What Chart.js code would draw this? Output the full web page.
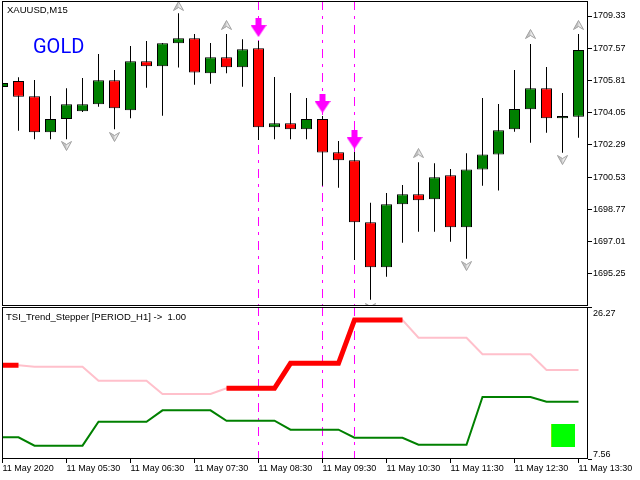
<!DOCTYPE html>
<html>
<head>
<meta charset="utf-8">
<script src="https://cdn.jsdelivr.net/npm/chart.js@4.4.1/dist/chart.umd.min.js"></script>
<style>
  html, body { margin: 0; padding: 0; background: #ffffff; }
  #wrap { position: relative; width: 640px; height: 480px; overflow: hidden; }
  #c1 { position: absolute; left: 0; top: 0; }
  #c2 { position: absolute; left: 0; top: 307px; }
</style>
</head>
<body>
<div id="wrap">
  <canvas id="c1" width="640" height="307"></canvas>
  <canvas id="c2" width="640" height="173"></canvas>
</div>
<script>
// ---------------- DATA ----------------
const symbolTitle = 'XAUUSD,M15';
const bannerText = 'GOLD';
const indicatorTitle = 'TSI_Trend_Stepper [PERIOD_H1] ->  1.00';

// candle index 0..36 (M15 bars, 04:30 .. 13:30)
const openP  = [1705.45,1705.78,1704.94,1702.98,1703.70,1704.12,1704.51,1705.82,1704.18,1706.86,
                1706.58,1707.84,1708.11,1706.20,1707.07,1706.53,1707.57,1703.25,1703.47,1703.14,
                1703.70,1701.88,1701.45,1698.06,1695.60,1699.04,1699.59,1699.32,1700.63,1697.79,
                1700.95,1701.77,1703.14,1704.23,1705.38,1703.74,1703.83];
const highP  = [1705.78,1705.98,1705.83,1704.96,1705.38,1705.94,1707.25,1706.38,1707.69,1707.96,
                1707.85,1709.48,1708.35,1707.86,1708.35,1708.06,1707.96,1706.00,1705.12,1704.85,
                1703.87,1702.50,1701.90,1699.13,1699.66,1700.10,1701.34,1701.28,1700.97,1701.83,
                1704.85,1704.52,1706.38,1707.80,1706.54,1705.12,1708.35];
const lowP   = [1705.34,1703.06,1702.59,1702.59,1702.59,1704.08,1704.37,1703.14,1703.74,1705.41,
                1703.88,1706.51,1705.58,1705.63,1706.20,1705.47,1702.56,1702.59,1702.59,1702.59,
                1700.06,1699.95,1696.00,1693.83,1695.09,1696.94,1697.54,1697.54,1697.00,1696.07,
                1700.06,1699.79,1703.01,1702.41,1702.95,1701.86,1702.68];
const closeP = [1705.67,1704.92,1702.98,1703.70,1704.51,1704.51,1705.82,1704.29,1706.86,1706.58,
                1707.84,1708.11,1706.25,1707.07,1706.53,1707.51,1703.25,1703.47,1703.14,1703.70,
                1701.87,1701.45,1698.06,1695.60,1699.04,1699.59,1699.26,1700.52,1697.79,1700.95,
                1701.77,1703.09,1704.25,1705.38,1703.74,1703.87,1707.47];

// grey fractal arrows
const upArrowIdx   = [11, 14, 26, 33, 36];
const upArrowVal   = [1709.88, 1708.84, 1701.84, 1708.35, 1708.84];
const downArrowIdx = [4, 7, 23, 29, 35];
const downArrowVal = [1702.23, 1702.72, 1693.38, 1695.67, 1701.46];

// magenta sell signals (arrows + vertical dash-dot lines)
const signalIdx = [16, 20, 22];
const signalVal = [1708.70, 1704.55, 1702.58];

// price axis ticks
const priceTicks = [1709.33, 1707.57, 1705.81, 1704.05, 1702.29, 1700.53, 1698.77, 1697.01, 1695.25];

// indicator window
const upperLine = [19.09,19.09,18.92,18.92,18.92,18.92,17.20,17.20,17.20,17.20,
                   15.56,15.56,15.56,15.56,16.26,16.26,16.26,16.26,19.34,19.34,
                   19.34,19.34,24.67,24.67,24.67,24.67,22.49,22.49,22.49,22.49,
                   20.45,20.45,20.45,20.45,18.52,18.52,18.52];
const upperActive = [19.09,19.09,null,null,null,null,null,null,null,null,
                     null,null,null,null,16.26,16.26,16.26,16.26,19.34,19.34,
                     19.34,19.34,24.67,24.67,24.67,24.67,null,null,null,null,
                     null,null,null,null,null,null,null];
const lowerLine = [10.23,10.23,9.20,9.20,9.20,9.20,12.15,12.15,12.15,12.15,
                   13.55,13.55,13.55,13.55,12.27,12.27,12.27,12.27,11.17,11.17,
                   11.17,11.17,10.18,10.18,10.18,10.18,9.32,9.32,9.32,9.32,
                   15.19,15.19,15.19,15.19,14.61,14.61,14.61];
const statusIdx = [35];
const statusVal = [10.48];
const subMax = 26.27;
const subMin = 7.56;

// time axis
const timeTickIdx = [0, 4, 8, 12, 16, 20, 24, 28, 32, 36];
const timeLabels = ['11 May 2020','11 May 05:30','11 May 06:30','11 May 07:30','11 May 08:30',
                    '11 May 09:30','11 May 10:30','11 May 11:30','11 May 12:30','11 May 13:30'];

// ---------------- STYLE / LAYOUT ----------------
const FONT = '"Liberation Sans", Arial, sans-serif';
const FS = 9;
const xMin = -0.03125, xMax = 36.59375;
const yMin = 1693.486, yMax = 1710.150;
const GREEN = '#008000', RED = '#FF0000', MAGENTA = '#FF00FF';

function makeGreyArrow(up) {
  const c = document.createElement('canvas');
  c.width = 11; c.height = 10;
  const g = c.getContext('2d');
  if (!up) { g.translate(0, 10); g.scale(1, -1); }
  g.beginPath();
  g.moveTo(5.5, 0.5); g.lineTo(10.5, 9.5); g.lineTo(5.5, 6.5); g.lineTo(0.5, 9.5); g.closePath();
  g.fillStyle = '#ececec'; g.fill();
  g.beginPath();
  g.moveTo(5.5, 0.5); g.lineTo(5.5, 6.5); g.lineTo(0.5, 9.5); g.closePath();
  g.fillStyle = '#c4c4c4'; g.fill();
  g.beginPath();
  g.moveTo(5.5, 0.5); g.lineTo(10.5, 9.5); g.lineTo(5.5, 6.5); g.lineTo(0.5, 9.5); g.closePath();
  g.strokeStyle = '#a0a0a0'; g.lineWidth = 1; g.stroke();
  return c;
}
function makeMagentaArrow() {
  const c = document.createElement('canvas');
  c.width = 16; c.height = 19;
  const g = c.getContext('2d');
  g.fillStyle = MAGENTA;
  g.fillRect(5, 0, 6, 9);
  g.beginPath(); g.moveTo(0, 7); g.lineTo(16, 7); g.lineTo(8, 19); g.closePath(); g.fill();
  return c;
}
function makeStatusBox() {
  const c = document.createElement('canvas');
  c.width = 24; c.height = 23;
  const g = c.getContext('2d');
  g.fillStyle = '#00FF00'; g.fillRect(0, 0, 24, 23);
  g.fillStyle = '#E0E000'; g.fillRect(0, 0, 1, 23);
  return c;
}

const framePlugin = {
  id: 'frame',
  beforeDatasetsDraw(chart) {
    const ctx = chart.ctx, a = chart.chartArea, xs = chart.scales.x;
    ctx.save();
    ctx.strokeStyle = MAGENTA; ctx.lineWidth = 1; ctx.setLineDash([9, 6, 3, 6]);
    signalIdx.forEach(i => {
      const x = Math.floor(xs.getPixelForValue(i)) + 0.5;
      ctx.beginPath(); ctx.moveTo(x, a.top); ctx.lineTo(x, a.bottom); ctx.stroke();
    });
    ctx.restore();
  },
  afterDraw(chart) {
    const ctx = chart.ctx, a = chart.chartArea;
    ctx.save();
    ctx.strokeStyle = '#000'; ctx.lineWidth = 1;
    ctx.strokeRect(a.left + 0.5, a.top + 0.5, a.right - a.left - 1, a.bottom - a.top - 1);
    ctx.restore();
  }
};

const mainText = {
  id: 'mainText',
  afterDraw(chart) {
    const ctx = chart.ctx;
    ctx.save();
    ctx.fillStyle = '#000'; ctx.font = '9.5px ' + FONT; ctx.textBaseline = 'alphabetic';
    ctx.fillText(symbolTitle, 7, 13);
    ctx.fillStyle = '#0000FF'; ctx.font = '20px Roboto, "Liberation Sans", sans-serif';
    ctx.fillText(bannerText, 33, 53);
    ctx.restore();
  }
};

const subText = {
  id: 'subText',
  afterDraw(chart) {
    const ctx = chart.ctx;
    ctx.save();
    ctx.fillStyle = '#000'; ctx.textBaseline = 'alphabetic';
    ctx.font = '9.5px ' + FONT;
    ctx.fillText(indicatorTitle, 6, 13);
    ctx.font = FS + 'px ' + FONT;
    ctx.fillText(subMax.toFixed(2), 593, 9);
    ctx.fillText(subMin.toFixed(2), 593, 150);
    ctx.restore();
  }
};

const idx = openP.map((_, i) => i);
const bodyColors = idx.map(i => closeP[i] >= openP[i] ? GREEN : RED);

new Chart(document.getElementById('c1'), {
  type: 'bar',
  data: {
    datasets: [
      { type: 'line', label: 'signal', data: signalIdx.map((k, i) => ({ x: k, y: signalVal[i] })),
        showLine: false, pointStyle: makeMagentaArrow(), pointRadius: 8, order: 0 },
      { type: 'line', label: 'up', data: upArrowIdx.map((k, i) => ({ x: k, y: upArrowVal[i] })),
        showLine: false, pointStyle: makeGreyArrow(true), pointRadius: 6, order: 1 },
      { type: 'line', label: 'down', data: downArrowIdx.map((k, i) => ({ x: k, y: downArrowVal[i] })),
        showLine: false, pointStyle: makeGreyArrow(false), pointRadius: 6, order: 2 },
      { label: 'body', data: idx.map(i => ({ x: i, y: [openP[i], closeP[i]] })),
        backgroundColor: bodyColors, borderColor: '#000', borderWidth: 1, borderSkipped: false,
        grouped: false, maxBarThickness: 11, barPercentage: 1, categoryPercentage: 1,
        inflateAmount: 0, order: 3 },
      { label: 'wick', data: idx.map(i => ({ x: i, y: [lowP[i], highP[i]] })),
        backgroundColor: '#000', borderWidth: 0, grouped: false, maxBarThickness: 1,
        barPercentage: 1, categoryPercentage: 1, inflateAmount: 0, order: 4 }
    ]
  },
  options: {
    responsive: false, animation: false, devicePixelRatio: 1,
    layout: { autoPadding: false, padding: { left: 2, top: 1, right: 0, bottom: 1 } },
    plugins: { legend: { display: false }, tooltip: { enabled: false } },
    scales: {
      x: { type: 'linear', min: xMin, max: xMax, offset: false, display: false },
      y: {
        position: 'right', min: yMin, max: yMax,
        afterFit(s) { s.width = 52; s.paddingTop = 0; s.paddingBottom = 0; },
        afterBuildTicks(s) { s.ticks = priceTicks.map(v => ({ value: v })); },
        ticks: { autoSkip: false, padding: 1, color: '#000', font: { family: FONT, size: FS },
                 callback: v => Number(v).toFixed(2) },
        grid: { drawOnChartArea: false, drawTicks: true, tickLength: 4, color: '#000' },
        border: { display: false }
      }
    }
  },
  plugins: [framePlugin, mainText]
});

new Chart(document.getElementById('c2'), {
  type: 'line',
  data: {
    datasets: [
      { label: 'status', data: statusIdx.map((k, i) => ({ x: k, y: statusVal[i] })),
        showLine: false, pointStyle: makeStatusBox(), pointRadius: 12, order: 0 },
      { label: 'active', data: idx.map(i => ({ x: i, y: upperActive[i] })),
        borderColor: RED, borderWidth: 5, pointRadius: 0, spanGaps: false, tension: 0, order: 1 },
      { label: 'upper', data: idx.map(i => ({ x: i, y: upperLine[i] })),
        borderColor: '#FFC0CB', borderWidth: 2, pointRadius: 0, tension: 0, order: 2 },
      { label: 'lower', data: idx.map(i => ({ x: i, y: lowerLine[i] })),
        borderColor: GREEN, borderWidth: 2, pointRadius: 0, tension: 0, order: 3 }
    ]
  },
  options: {
    responsive: false, animation: false, devicePixelRatio: 1,
    layout: { autoPadding: false, padding: { left: 2, top: 0, right: 0, bottom: 0 } },
    plugins: { legend: { display: false }, tooltip: { enabled: false } },
    scales: {
      x: {
        type: 'linear', position: 'bottom', min: xMin, max: xMax, offset: false,
        afterFit(s) { s.height = 21; s.paddingLeft = 0; s.paddingRight = 0; },
        afterBuildTicks(s) { s.ticks = timeTickIdx.map(v => ({ value: v })); },
        ticks: { autoSkip: false, maxRotation: 0, minRotation: 0, align: 'start', padding: 1,
                 color: '#000', font: { family: FONT, size: FS, lineHeight: 1 },
                 callback: (v, i) => timeLabels[i] },
        grid: { drawOnChartArea: false, drawTicks: true, tickLength: 4, color: '#000' },
        border: { display: false }
      },
      y: {
        position: 'right', min: subMin, max: subMax,
        afterFit(s) { s.width = 52; s.paddingTop = 0; s.paddingBottom = 0; },
        afterBuildTicks(s) { s.ticks = [{ value: subMin }, { value: subMax }]; },
        ticks: { display: false },
        grid: { drawOnChartArea: false, drawTicks: true, tickLength: 4, color: '#000' },
        border: { display: false }
      }
    }
  },
  plugins: [framePlugin, subText]
});
</script>
</body>
</html>
